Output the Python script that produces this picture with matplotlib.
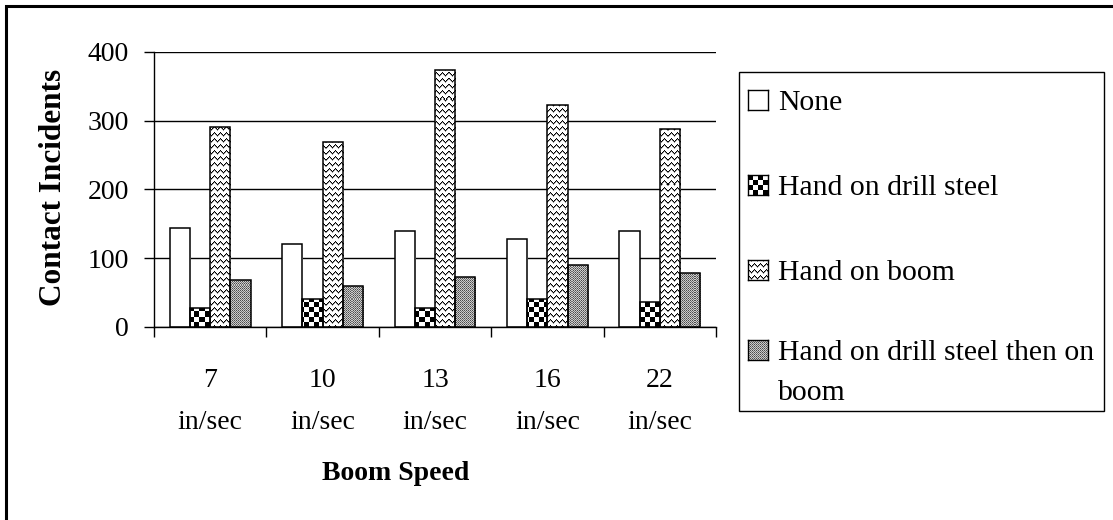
import matplotlib
matplotlib.use("Agg")
import matplotlib.pyplot as plt
import numpy as np
from matplotlib.patches import Rectangle

plt.rcParams['font.family'] = ['Liberation Serif', 'DejaVu Serif']

speeds = ['7\nin/sec', '10\nin/sec', '13\nin/sec', '16\nin/sec', '22\nin/sec']
series_names = ['None', 'Hand on drill steel', 'Hand on boom',
                'Hand on drill steel then on\nboom']
none = [144, 120, 140, 128, 140]
drill_steel = [28, 40, 28, 40, 36]
boom = [290, 269, 373, 323, 287]
steel_then_boom = [69, 60, 72, 90, 78]
yticks = [0, 100, 200, 300, 400]

W_PX, H_PX = 1113, 520
TICK_FS = 20
LEG_FS = 21.4


# fill textures, one value per pixel (0 = black, 1 = white)
def tex_blank(h, w):
    return np.ones((h, w))


def tex_checker(h, w, cell=5):
    i, j = np.mgrid[0:h, 0:w]
    return ((i // cell + j // cell) % 2).astype(float)


def tex_wavy(h, w):
    i, j = np.mgrid[0:h, 0:w]
    tri = np.abs((j % 6) - 3)
    img = np.ones((h, w))
    img[(i + tri) % 6 == 0] = 0.0
    img[(i + tri) % 6 == 1] = 0.6
    return img


def tex_dots(h, w):
    i, j = np.mgrid[0:h, 0:w]
    img = np.where((i + j) % 2 == 0, 0.45, 0.8)
    img[(i % 2 == 0) & (j % 2 == 0)] = 0.3
    return img


textures = [tex_blank, tex_checker, tex_wavy, tex_dots]
data = [none, drill_steel, boom, steel_then_boom]

fig = plt.figure(figsize=(W_PX / 100, H_PX / 100), dpi=100)

# plot area in pixels
ax_l, ax_r, ax_t, ax_b = 154, 716, 51.7, 327
ax = fig.add_axes([ax_l / W_PX, 1 - ax_b / H_PX,
                   (ax_r - ax_l) / W_PX, (ax_b - ax_t) / H_PX])
tw, th = int(ax_r - ax_l), int(ax_b - ax_t)

x = np.arange(len(speeds))
width = 0.18
offsets = [-1.5 * width, -0.5 * width, 0.5 * width, 1.5 * width]
xlim = (-0.5, len(speeds) - 0.5)
ylim = (0, 400)

for vals, off, tex in zip(data, offsets, textures):
    bars = ax.bar(x + off, vals, width, color='white', edgecolor='none',
                  zorder=2)
    img = tex(th, tw)
    for b in bars:
        im = ax.imshow(img, cmap='gray', vmin=0, vmax=1, aspect='auto',
                       interpolation='nearest',
                       extent=(xlim[0], xlim[1], ylim[0], ylim[1]),
                       zorder=2.5)
        im.set_clip_path(b)
    ax.bar(x + off, vals, width, fill=False, edgecolor='black',
           linewidth=1.1, zorder=3)

ax.set_xlim(*xlim)
ax.set_ylim(*ylim)
ax.set_yticks(yticks)
ax.set_axisbelow(True)
ax.yaxis.grid(True, color='black', linewidth=1.0)

for s in ['top', 'right']:
    ax.spines[s].set_visible(False)
for s in ['left', 'bottom']:
    ax.spines[s].set_color('black')
    ax.spines[s].set_linewidth(1.0)

ax.set_xticks(x)
ax.set_xticklabels(speeds, linespacing=1.9)
ax.set_xticks(np.arange(-0.5, len(speeds)), minor=True)
ax.tick_params(axis='x', which='major', length=0, pad=29.5,
               labelsize=TICK_FS)
ax.tick_params(axis='x', which='minor', length=7, width=1, direction='out')
ax.tick_params(axis='y', length=7, width=1, direction='out', pad=11,
               labelsize=TICK_FS)

fig.text(54 / W_PX, 1 - 187 / H_PX, 'Contact Incidents', rotation=90,
         ha='center', va='center', fontsize=22.5, fontweight='bold')
fig.text(396 / W_PX, 1 - 473 / H_PX, 'Boom Speed', ha='center', va='center',
         fontsize=20, fontweight='bold')

# legend box
lg_l, lg_t, lg_r, lg_b = 739, 72, 1104, 411
fig.patches.append(Rectangle((lg_l / W_PX, 1 - lg_b / H_PX),
                             (lg_r - lg_l) / W_PX, (lg_b - lg_t) / H_PX,
                             transform=fig.transFigure, fill=False,
                             edgecolor='black', linewidth=1.0))
baselines = [110, 195, 280, 360]
sw = 20
for name, tex, base in zip(series_names, textures, baselines):
    sax = fig.add_axes([748 / W_PX, 1 - base / H_PX, sw / W_PX, sw / H_PX])
    sax.imshow(tex(sw, sw), cmap='gray', vmin=0, vmax=1, aspect='auto',
               interpolation='nearest')
    sax.set_xticks([])
    sax.set_yticks([])
    for sp in sax.spines.values():
        sp.set_linewidth(1.0)
        sp.set_color('black')
    # wrapped entries: one text per line, 40 px apart
    for k, line in enumerate(name.split('\n')):
        fig.text(778 / W_PX, 1 - (base + 40 * k) / H_PX, line, ha='left',
                 va='baseline', fontsize=LEG_FS)

# outer frame around the whole chart
fig.patches.append(Rectangle((6 / W_PX, -0.5), 2, (1 - 6 / H_PX) + 0.5,
                             transform=fig.transFigure, fill=False,
                             edgecolor='black', linewidth=2.2))

fig.savefig('out.png', dpi=100)
